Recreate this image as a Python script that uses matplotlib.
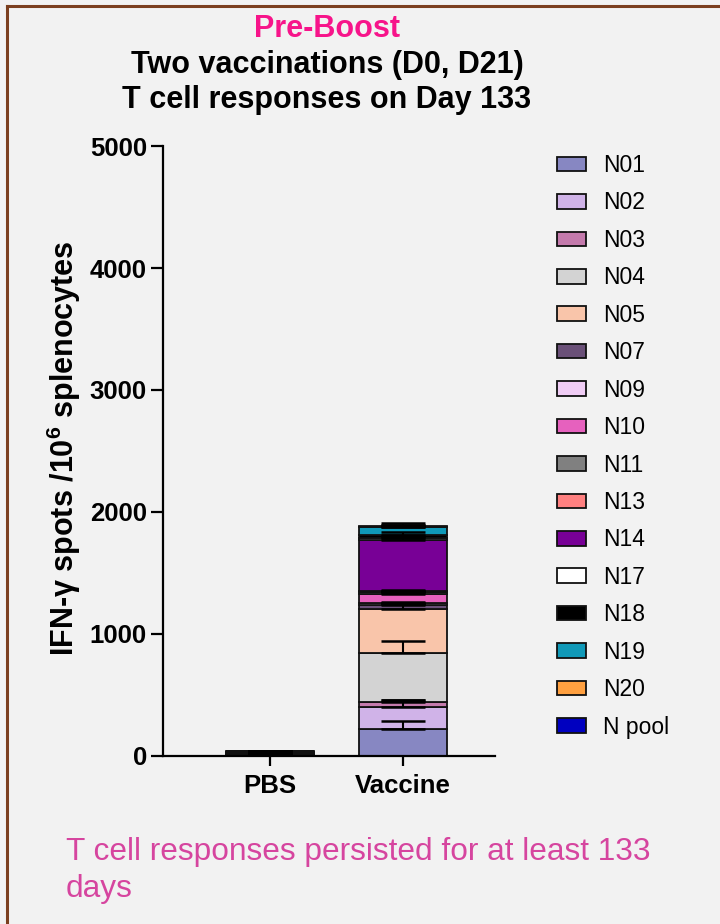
import numpy as np
import matplotlib.pyplot as plt
from matplotlib.lines import Line2D

plt.rcParams['font.family'] = ['Liberation Sans', 'DejaVu Sans']
plt.rcParams['mathtext.fontset'] = 'custom'
plt.rcParams['mathtext.bf'] = 'Liberation Sans:bold'
plt.rcParams['mathtext.rm'] = 'Liberation Sans'

# Peptide pools, stacked bottom to top
peptides = ['N01', 'N02', 'N03', 'N04', 'N05', 'N07', 'N09', 'N10',
            'N11', 'N13', 'N14', 'N17', 'N18', 'N19', 'N20', 'N pool']
colors = ['#8787c2', '#d0b3e8', '#c47aac', '#d3d3d3', '#f9c5aa', '#6a5078',
          '#f0cdf5', '#e661be', '#808080', '#ff8080', '#780096', '#ffffff',
          '#000000', '#1099b8', '#ffa040', '#0000c0']
groups = ['PBS', 'Vaccine']

# mean spots per 10^6 splenocytes
pbs_mean = [4, 3, 2, 5, 5, 2, 2, 3, 2, 2, 4, 1, 2, 2, 1, 1]
pbs_sd = [3, 2, 2, 4, 3, 2, 2, 2, 2, 2, 3, 1, 2, 2, 1, 1]
vac_mean = [219, 181, 38, 405, 364, 30, 16, 75, 12, 10, 418, 15, 26, 63, 8, 4]
vac_sd = [63, 60, 20, 101, 47, 10, 8, 15, 10, 8, 30, 20, 25, 38, 10, 5]

fig = plt.figure(figsize=(7.2, 9.24), dpi=100, facecolor='#f2f2f2')
ax = fig.add_axes([0.2264, 0.1821, 0.4611, 0.6598], facecolor='#f2f2f2')

x = np.arange(len(groups))
width = 0.66
data = np.array([pbs_mean, vac_mean], dtype=float)
errs = np.array([pbs_sd, vac_sd], dtype=float)
bottoms = np.zeros(len(groups))
for i, name in enumerate(peptides):
    ax.bar(x, data[:, i], width, bottom=bottoms, color=colors[i],
           edgecolor='#111111', linewidth=1.3, label=name, zorder=2)
    tops = bottoms + data[:, i]
    ax.errorbar(x, tops, yerr=[np.zeros(len(groups)), errs[:, i]], fmt='none',
                ecolor='black', elinewidth=1.5, capsize=16, capthick=1.8, zorder=3)
    bottoms = tops

ax.set_xlim(-0.805, 1.69)
ax.set_ylim(0, 5000)
ax.set_yticks([0, 1000, 2000, 3000, 4000, 5000])
ax.set_xticks(x)
ax.set_xticklabels(groups, fontsize=18.5, fontweight='bold')
for lab in ax.get_yticklabels():
    lab.set_fontsize(18.5)
    lab.set_fontweight('bold')
ax.tick_params(axis='y', length=8.6, width=1.6, pad=3)
ax.tick_params(axis='x', length=7.2, width=1.6, pad=6)
for side in ['top', 'right']:
    ax.spines[side].set_visible(False)
for side in ['left', 'bottom']:
    ax.spines[side].set_linewidth(1.6)

ax.set_ylabel(r'IFN-γ spots /10$^{\mathbf{6}}$ splenocytes',
              fontsize=22, fontweight='bold')
ax.yaxis.set_label_coords(-0.24, 0.505)

ax.legend(loc='upper left', bbox_to_anchor=(557 / 720, 1 - 154 / 924),
          bbox_transform=fig.transFigure, frameon=False, fontsize=16.5,
          handlelength=1.27, handleheight=0.6, handletextpad=0.74,
          labelspacing=0.63, borderpad=0, borderaxespad=0)

# titles
fig.text(0.454, 1 - 37 / 924, 'Pre-Boost', ha='center', va='baseline',
         fontsize=22, fontweight='bold', color='#f7148a')
fig.text(0.454, 1 - 73 / 924, 'Two vaccinations (D0, D21)', ha='center',
         va='baseline', fontsize=22, fontweight='bold')
fig.text(0.454, 1 - 108 / 924, 'T cell responses on Day 133', ha='center',
         va='baseline', fontsize=22, fontweight='bold')

fig.text(66 / 720, 1 - 860 / 924, 'T cell responses persisted for at least 133',
         ha='left', va='baseline', fontsize=22.8, color='#d6459f')
fig.text(66 / 720, 1 - 897 / 924, 'days', ha='left', va='baseline',
         fontsize=22.8, color='#d6459f')

# frame lines along top and left edge
fig.add_artist(Line2D([7 / 720, 1], [1 - 6 / 924, 1 - 6 / 924],
                      transform=fig.transFigure, color='#7b3f1f', linewidth=2.2))
fig.add_artist(Line2D([7 / 720, 7 / 720], [0, 1 - 6 / 924],
                      transform=fig.transFigure, color='#7b3f1f', linewidth=2.2))

fig.savefig('out.png', dpi=100, facecolor=fig.get_facecolor())
